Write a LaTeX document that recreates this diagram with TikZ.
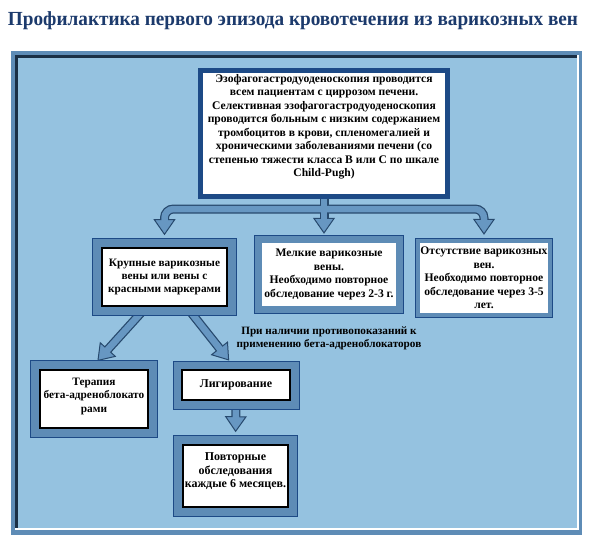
\documentclass[tikz,border=0pt]{standalone}
\usepackage{fontspec}
\setmainfont{Liberation Serif}
\usetikzlibrary{arrows.meta,calc}
\definecolor{panelblue}{HTML}{95C2E0}
\definecolor{steelblue}{HTML}{5E8CB6}
\definecolor{navyblue}{HTML}{1D4A86}
\definecolor{arrowline}{HTML}{27496D}
\definecolor{arrowfill}{HTML}{6797C2}
\definecolor{titleblue}{HTML}{1C3A6C}
\definecolor{bevel}{HTML}{1A2F45}
\pgfdeclarelayer{back}
\pgfsetlayers{back,main}

\tikzset{
	boxtext/.style={font=\bfseries\fontsize{12}{13.5}\selectfont, align=center, inner sep=0pt, fill=white},
	smalltext/.style={font=\bfseries\fontsize{11.3}{13.5}\selectfont},
	midtext/.style={font=\bfseries\fontsize{11.6}{13.5}\selectfont},
	topbox/.style={boxtext, midtext, draw=navyblue, line width=5pt},
	framebox/.style={boxtext, draw=black, line width=1.6pt, preaction={draw=navyblue, line width=#1+2pt}, preaction={draw=steelblue, line width=#1}},
	framebox/.default=18pt,
	plainbox/.style={boxtext, midtext, draw=none, preaction={draw=navyblue, line width=#1+1.5pt}, preaction={draw=steelblue, line width=#1}},
	shaftout/.style={draw=arrowline, line width=9pt, -{Triangle[width=22pt,length=16pt,line width=1pt,fill=arrowfill]}},
	shaftin/.style={draw=arrowfill, line width=6.5pt},
}

\begin{document}
\begin{tikzpicture}[x=1pt,y=-1pt]
		%%%%% START %%%%%
		\useasboundingbox (0,0) rectangle (600,546);
		
		\node[font=\bfseries\fontsize{20}{24}\selectfont, text=titleblue, inner sep=0pt] (title) at (293,21) {\scalebox{0.962}[1]{Профилактика первого эпизода кровотечения из варикозных вен}};
		
		\begin{pgfonlayer}{back}
			\fill[steelblue] (11,51) rectangle (582,535);
			\fill[white] (15,55) rectangle (579,530);
			\fill[bevel] (15,55) rectangle (577,528);
			\fill[panelblue] (18,58) rectangle (577,528);
		\end{pgfonlayer}
		
		\node[topbox, minimum width=247pt, minimum height=126pt] (endo) at (324,133.5) {Эзофагогастродуоденоскопия проводится\\всем пациентам с циррозом печени.\\Селективная эзофагогастродуоденоскопия\\проводится больным с низким содержанием\\тромбоцитов в крови, спленомегалией и\\хроническими заболеваниями печени (со\\степенью тяжести класса В или С по шкале\\Child-Pugh)\\[2.5pt]\mbox{}};
		
		\node[framebox, smalltext, minimum width=125pt, minimum height=58pt] (krup) at (164.5,277) {Крупные варикозные\\вены или вены с\\красными маркерами};
		\node[plainbox=14pt, minimum width=134pt, minimum height=63pt] (melk) at (329,274.5) {Мелкие варикозные\\вены.\\Необходимо повторное\\обследование через 2-3 г.};
		\node[plainbox=8pt, minimum width=128pt, minimum height=70pt] (net) at (484,278) {Отсутствие варикозных\\вен.\\Необходимо повторное\\обследование через 3-5\\лет.};
		
		\node[font=\bfseries\fontsize{11.2}{13}\selectfont, align=center, inner sep=0pt] (protiv) at (329,338) {При наличии противопоказаний к\\применению бета-адреноблокаторов};
		
		\node[framebox, smalltext, minimum width=108pt, minimum height=58pt] (beta) at (94,399) {Терапия\\бета-адреноблокато\\рами\\[-6pt]\mbox{}};
		\node[framebox=17pt, minimum width=108pt, minimum height=30pt] (lig) at (236,385) {Лигирование};
		\node[framebox, minimum width=105pt, minimum height=62pt] (povt) at (235.5,476) {Повторные\\обследования\\каждые 6 месяцев.\\[-2pt]\mbox{}};
		
		\begin{pgfonlayer}{back}
			% outlines first
			\draw[shaftout] (endo.south) -- (endo.south |- melk.north) [shorten >=9pt];
			\draw[shaftout, rounded corners=9pt, shorten >=12pt] ([yshift=-10pt]endo.south) -| (krup.north);
			\draw[shaftout, rounded corners=9pt, shorten >=8pt] ([yshift=-10pt]endo.south) -| (net.north);
			\draw[shaftout, shorten >=11pt] ([xshift=-18pt]krup.south) -- ([xshift=-4pt]beta.north);
			\draw[shaftout, shorten >=11pt] ([xshift=22pt]krup.south) -- (lig.north);
			\draw[shaftout, shorten >=12pt] (lig.south) -- (povt.north);
			% then the fills
			\draw[shaftin, shorten >=23pt] (endo.south) -- (endo.south |- melk.north);
			\draw[shaftin, rounded corners=9pt, shorten >=26pt] ([yshift=-10pt]endo.south) -| (krup.north);
			\draw[shaftin, rounded corners=9pt, shorten >=22pt] ([yshift=-10pt]endo.south) -| (net.north);
			\draw[shaftin, shorten >=25pt] ([xshift=-18pt]krup.south) -- ([xshift=-4pt]beta.north);
			\draw[shaftin, shorten >=25pt] ([xshift=22pt]krup.south) -- (lig.north);
			\draw[shaftin, shorten >=26pt] (lig.south) -- (povt.north);
		\end{pgfonlayer}
		
		%%%%% END %%%%%
	\end{tikzpicture}
\end{document}
